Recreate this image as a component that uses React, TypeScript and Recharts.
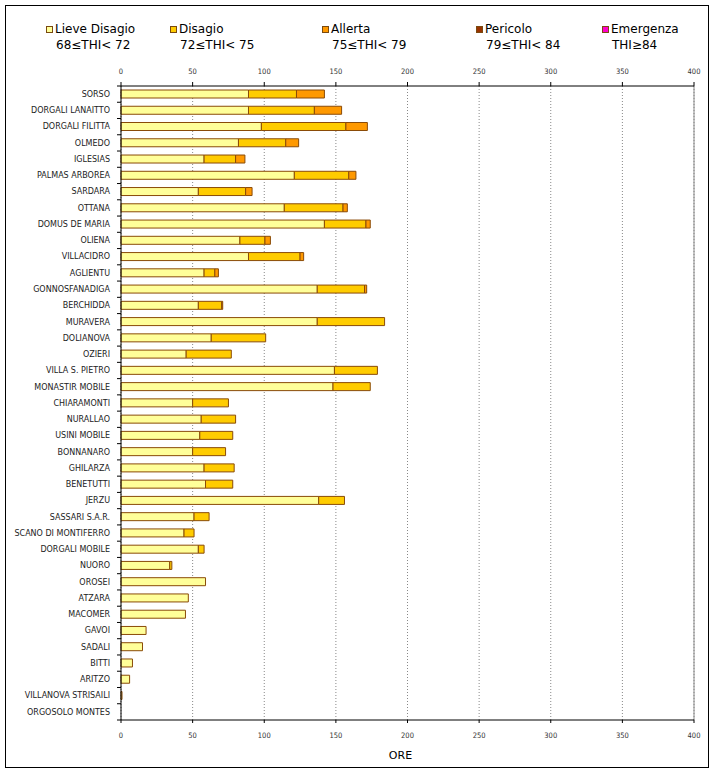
import React from 'react';
import { BarChart, Bar, XAxis, YAxis, CartesianGrid, ReferenceLine } from 'recharts';

const stations = [
  'SORSO', 'DORGALI LANAITTO', 'DORGALI FILITTA', 'OLMEDO', 'IGLESIAS', 'PALMAS ARBOREA',
  'SARDARA', 'OTTANA', 'DOMUS DE MARIA', 'OLIENA', 'VILLACIDRO', 'AGLIENTU', 'GONNOSFANADIGA',
  'BERCHIDDA', 'MURAVERA', 'DOLIANOVA', 'OZIERI', 'VILLA S. PIETRO', 'MONASTIR MOBILE',
  'CHIARAMONTI', 'NURALLAO', 'USINI MOBILE', 'BONNANARO', 'GHILARZA', 'BENETUTTI', 'JERZU',
  'SASSARI S.A.R.', 'SCANO DI MONTIFERRO', 'DORGALI MOBILE', 'NUORO', 'OROSEI', 'ATZARA',
  'MACOMER', 'GAVOI', 'SADALI', 'BITTI', 'ARITZO', 'VILLANOVA STRISAILI', 'ORGOSOLO MONTES',
];

// ore per classe di THI
const lieveDisagio = [
  89, 89, 98, 82, 58, 121, 54, 114, 142, 83, 89, 58, 137, 54, 137, 63, 45.5, 149, 148, 50,
  56, 55, 50, 58, 59, 138, 51, 44, 54, 34, 59, 47, 45, 17.5, 15, 8, 6, 0.7, 0,
];
const disagio = [
  33.5, 46, 59, 33, 22, 38, 33, 41, 29, 17.5, 36, 7.5, 33, 16.3, 47, 38, 31.5, 30, 26, 25,
  24, 23, 23, 21, 19, 18, 10.5, 7, 4, 1.5, 0, 0, 0, 0, 0, 0, 0, 0, 0,
];
const allerta = [
  19.5, 19, 15, 9, 6.5, 5, 4.5, 3, 3, 3.8, 2.5, 2.5, 1.5, 0.7, 0, 0, 0, 0, 0, 0,
  0, 0, 0, 0, 0, 0, 0, 0, 0, 0, 0, 0, 0, 0, 0, 0, 0, 0, 0,
];
const pericolo = stations.map(() => 0);
const emergenza = stations.map(() => 0);

const xTicks = [0, 50, 100, 150, 200, 250, 300, 350, 400];

const series = [
  { key: 'lieve', name: 'Lieve Disagio', range: '68≤THI< 72', values: lieveDisagio, color: '#FFFF99', lx: 46 },
  { key: 'disagio', name: 'Disagio', range: '72≤THI< 75', values: disagio, color: '#FFCC00', lx: 170 },
  { key: 'allerta', name: 'Allerta', range: '75≤THI< 79', values: allerta, color: '#FF9900', lx: 322 },
  { key: 'pericolo', name: 'Pericolo', range: '79≤THI< 84', values: pericolo, color: '#993300', lx: 476 },
  { key: 'emergenza', name: 'Emergenza', range: 'THI≥84', values: emergenza, color: '#FF00CC', lx: 602 },
];

const data = stations.map((name, i) => {
  const row: Record<string, any> = { name };
  series.forEach((s) => { row[s.key] = s.values[i]; });
  return row;
});

const BAND = 634 / stations.length;
const font = 'DejaVu Sans, Verdana, sans-serif';

const CategoryTick = (props: any) => {
  const { x, y, payload, index } = props;
  return (
    <g>
      <line x1={x - 4} x2={x} y1={y - BAND / 2} y2={y - BAND / 2} stroke="#000" />
      {index === stations.length - 1 && (
        <line x1={x - 4} x2={x} y1={y + BAND / 2} y2={y + BAND / 2} stroke="#000" />
      )}
      <text x={x - 11} y={y} dy="0.35em" textAnchor="end" fontSize={8} fill="#222" fontFamily={font}>
        {payload.value}
      </text>
    </g>
  );
};

const tickStyle = { fontSize: 7.5, fill: '#333', fontFamily: 'DejaVu Sans Condensed, DejaVu Sans, sans-serif' };

export default function App() {
  return (
    <div style={{ position: 'absolute', left: 0, top: 0, width: 714, height: 771, background: '#fff', fontFamily: font }}>
      <div style={{ position: 'absolute', left: 5, top: 5, width: 702, height: 761, border: '1px solid #000' }} />
      {series.map((s) => (
        <div key={s.key} style={{ position: 'absolute', left: s.lx, top: 21, fontSize: 12, lineHeight: '16px', color: '#000', whiteSpace: 'nowrap' }}>
          <span style={{ position: 'absolute', left: 0, top: 5, width: 5, height: 5, background: s.color, border: '1px solid #7a4a10' }} />
          <div style={{ paddingLeft: 9 }}>{s.name}</div>
          <div style={{ paddingLeft: 10 }}>{s.range}</div>
        </div>
      ))}
      <div style={{ position: 'absolute', left: 0, top: 0 }}>
        <BarChart
          width={714}
          height={771}
          layout="vertical"
          data={data}
          barSize={8}
          margin={{ top: 56, right: 20, bottom: 6, left: 4 }}
        >
          <CartesianGrid xAxisId="bottom" horizontal={false} stroke="#888" strokeDasharray="1 2" />
          <XAxis
            xAxisId="top"
            orientation="top"
            type="number"
            domain={[0, 400]}
            allowDataOverflow
            ticks={xTicks}
            height={30}
            tickSize={4}
            tickMargin={8}
            axisLine={{ stroke: '#000' }}
            tickLine={{ stroke: '#000' }}
            tick={tickStyle}
          />
          <XAxis
            xAxisId="bottom"
            orientation="bottom"
            type="number"
            domain={[0, 400]}
            ticks={xTicks}
            height={45}
            tickSize={3}
            tickMargin={10}
            axisLine={{ stroke: '#000' }}
            tickLine={{ stroke: '#000' }}
            tick={tickStyle}
            label={{ value: 'ORE', position: 'insideBottom', offset: 6, dx: -7, fontSize: 11, fill: '#000', fontFamily: font }}
          />
          <YAxis
            type="category"
            dataKey="name"
            width={117}
            interval={0}
            tickSize={0}
            tickMargin={0}
            tickLine={false}
            axisLine={{ stroke: '#000' }}
            tick={<CategoryTick />}
          />
          <ReferenceLine xAxisId="bottom" x={400} stroke="#888" />
          {series.map((s) => (
            <Bar
              key={s.key}
              xAxisId="bottom"
              dataKey={s.key}
              name={s.name}
              stackId="ore"
              fill={s.color}
              stroke="#8a4b08"
              strokeWidth={1}
              isAnimationActive={false}
            />
          ))}
        </BarChart>
      </div>
    </div>
  );
}
